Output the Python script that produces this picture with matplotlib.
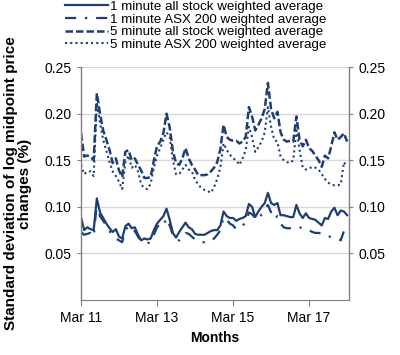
import matplotlib
matplotlib.use("Agg")
import matplotlib.pyplot as plt
import numpy as np

plt.rcParams['font.family'] = ['Liberation Sans', 'DejaVu Sans']

# month index 0 = Mar 2011
tick_pos = [0, 24, 48, 72]
tick_labels = ["Mar 11", "Mar 13", "Mar 15", "Mar 17"]

one_min_all = [0.089, 0.075, 0.078, 0.076, 0.075, 0.109, 0.094, 0.088, 0.082, 0.077,
               0.073, 0.076, 0.068, 0.066, 0.079, 0.082, 0.077, 0.078, 0.070, 0.064,
               0.066, 0.065, 0.066, 0.075, 0.082, 0.086, 0.090, 0.098, 0.086, 0.072,
               0.067, 0.073, 0.078, 0.083, 0.078, 0.076, 0.071, 0.070, 0.070, 0.070,
               0.072, 0.074, 0.075, 0.075, 0.080, 0.095, 0.090, 0.088, 0.088, 0.085,
               0.087, 0.088, 0.090, 0.103, 0.100, 0.089, 0.095, 0.100, 0.104, 0.115,
               0.104, 0.102, 0.104, 0.091, 0.091, 0.090, 0.089, 0.089, 0.102, 0.093,
               0.088, 0.093, 0.088, 0.087, 0.086, 0.083, 0.080, 0.088, 0.087, 0.095,
               0.099, 0.091, 0.096, 0.095, 0.091]

one_min_asx = [0.073, 0.070, 0.071, 0.072, 0.068, 0.105, 0.090, 0.085, 0.080, 0.074,
               0.069, 0.066, 0.064, 0.062, 0.075, 0.079, 0.074, 0.074, 0.068, 0.063,
               0.062, 0.061, 0.062, 0.070, 0.078, 0.082, 0.080, 0.088, 0.080, 0.070,
               0.064, 0.064, 0.068, 0.072, 0.071, 0.068, 0.065, 0.063, 0.062, 0.062,
               0.062, 0.063, 0.066, 0.070, 0.075, 0.089, 0.086, 0.082, 0.080, 0.076,
               0.077, 0.080, 0.083, 0.094, 0.092, 0.088, 0.086, 0.092, 0.098, 0.102,
               0.094, 0.087, 0.090, 0.082, 0.078, 0.077, 0.077, 0.078, 0.079, 0.078,
               0.077, 0.076, 0.075, 0.073, 0.072, 0.072, 0.071, 0.069, 0.068, 0.068,
               0.067, 0.066, 0.064, 0.074, 0.078]

five_min_all = [0.179, 0.154, 0.155, 0.154, 0.150, 0.222, 0.200, 0.182, 0.172, 0.161,
                0.147, 0.152, 0.139, 0.132, 0.159, 0.161, 0.150, 0.152, 0.145, 0.139,
                0.131, 0.131, 0.132, 0.150, 0.165, 0.170, 0.179, 0.200, 0.185, 0.160,
                0.147, 0.145, 0.152, 0.163, 0.152, 0.145, 0.140, 0.134, 0.134, 0.134,
                0.135, 0.138, 0.142, 0.148, 0.162, 0.188, 0.175, 0.172, 0.171, 0.171,
                0.168, 0.170, 0.175, 0.207, 0.197, 0.182, 0.188, 0.195, 0.205, 0.233,
                0.205, 0.195, 0.202, 0.180, 0.172, 0.170, 0.171, 0.170, 0.197, 0.172,
                0.165, 0.172, 0.163, 0.160, 0.155, 0.150, 0.143, 0.155, 0.152, 0.165,
                0.180, 0.172, 0.175, 0.179, 0.170]

five_min_asx = [0.145, 0.135, 0.138, 0.138, 0.133, 0.212, 0.190, 0.172, 0.160, 0.148,
                0.138, 0.133, 0.127, 0.119, 0.148, 0.155, 0.142, 0.145, 0.138, 0.124,
                0.120, 0.119, 0.125, 0.142, 0.155, 0.163, 0.172, 0.180, 0.175, 0.150,
                0.135, 0.135, 0.140, 0.145, 0.140, 0.138, 0.129, 0.124, 0.120, 0.118,
                0.117, 0.115, 0.121, 0.130, 0.142, 0.168, 0.161, 0.156, 0.152, 0.150,
                0.145, 0.152, 0.161, 0.186, 0.175, 0.159, 0.164, 0.170, 0.180, 0.207,
                0.186, 0.172, 0.170, 0.154, 0.150, 0.148, 0.147, 0.150, 0.182, 0.161,
                0.142, 0.140, 0.141, 0.143, 0.142, 0.140, 0.135, 0.130, 0.126, 0.124,
                0.123, 0.123, 0.124, 0.148, 0.143]

labels = ["1 minute all stock weighted average",
          "1 minute ASX 200 weighted average",
          "5 minute all stock weighted average",
          "5 minute ASX 200 weighted average"]

color = '#1F3F70'
months = np.arange(len(one_min_all))

fig = plt.figure(figsize=(4.0, 3.55), dpi=100)
ax = fig.add_axes([0.2025, 0.155, 0.67, 0.656])

ax.plot(months, one_min_all, color=color, lw=1.6, ls='-', label=labels[0])
ax.plot(months, one_min_asx, color=color, lw=1.6, ls=(0, (5, 4, 1, 4)), label=labels[1])
ax.plot(months, five_min_all, color=color, lw=1.8, ls=(0, (3, 1.2)), label=labels[2])
ax.plot(months, five_min_asx, color=color, lw=1.5, ls=(0, (1, 1.5)), label=labels[3])

ax.set_xlim(0, 84.6)
ax.set_ylim(0, 0.25)
ax.set_yticks([0.05, 0.10, 0.15, 0.20, 0.25])
ax.set_yticklabels(["0.05", "0.10", "0.15", "0.20", "0.25"])
ax.set_xticks(tick_pos)
ax.set_xticklabels(tick_labels)
ax.grid(axis='y', color='#D9D9D9', lw=1)
ax.set_axisbelow(True)

for s in ['left', 'right']:
    ax.spines[s].set_color('#808080')
    ax.spines[s].set_linewidth(1)
ax.spines['bottom'].set_color('#808080')
ax.spines['top'].set_visible(False)

ax.tick_params(axis='y', which='both', left=True, right=True, labelleft=True, labelright=True,
               direction='out', length=3, color='#808080', labelsize=10, pad=4)
ax.tick_params(axis='x', direction='out', length=4, color='#808080', labelsize=10, pad=4)

ax.set_xlabel("Months", fontsize=10, fontweight='bold', labelpad=4)
ax.set_ylabel("Standard deviation of log midpoint price\nchanges (%)", fontsize=11,
              fontweight='bold', labelpad=9, linespacing=1.0)

fig.legend(loc='upper left', bbox_to_anchor=(0.163, 0.998), frameon=False, fontsize=9.6,
           handlelength=3.2, handletextpad=0.15, labelspacing=0.02, borderpad=0,
           borderaxespad=0)

fig.savefig("out.png", dpi=100)
